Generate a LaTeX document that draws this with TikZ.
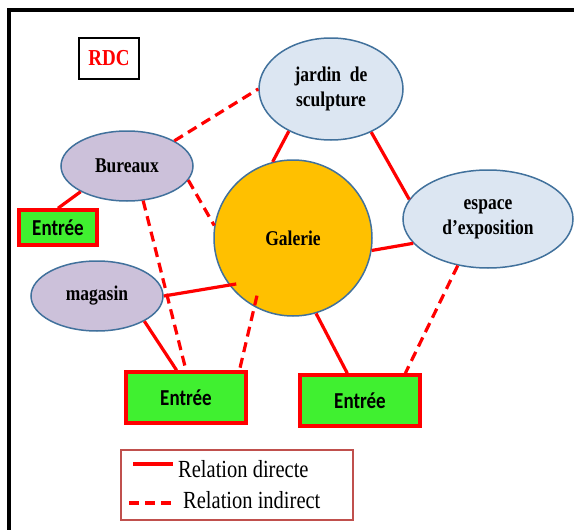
\documentclass[tikz,border=0pt]{standalone}
\usepackage{fontspec}
\setmainfont{Liberation Serif}
\newfontfamily\entfont{Carlito}
\usepackage{xcolor}
\usepackage{graphicx}
\usepackage{tikz}
\usetikzlibrary{calc,shapes.geometric}
\definecolor{rouge}{HTML}{FF0000}
\definecolor{bord}{HTML}{41719C}
\definecolor{lavande}{HTML}{CCC1DA}
\definecolor{ciel}{HTML}{DCE6F2}
\definecolor{orange}{HTML}{FFC000}
\definecolor{vert}{HTML}{40F030}
\definecolor{legbord}{HTML}{C0504D}
\newcommand{\haut}[1]{\scalebox{1}[1.2]{#1}}
\tikzset{
  salle/.style={ellipse, draw=bord, line width=1.5pt, inner sep=0pt, align=center,
    font=\fontsize{17.5}{25}\selectfont\bfseries},
  entree/.style={draw=rouge, fill=vert, line width=3.5pt, inner sep=0pt,
    font=\entfont\fontsize{19}{22}\selectfont\bfseries},
  dir/.style={draw=rouge, line width=3.2pt},
  ind/.style={draw=rouge, line width=3.2pt, dash pattern=on 10pt off 6pt},
  leg/.style={anchor=west, inner sep=0pt, font=\fontsize{20.5}{24}\selectfont},
}

\begin{document}
\begin{tikzpicture}[x=1pt,y=-1pt]
  \useasboundingbox (0,0) rectangle (574,530);
  % cadre
  \draw[line width=3.5pt] (574,10) -- (9,10) -- (9,530);
  \node[draw, line width=2pt, minimum width=60pt, minimum height=41pt, text=rouge,
    font=\fontsize{19}{22}\selectfont\bfseries] (rdc) at (109,58.5) {\haut{RDC}};
  % espaces
  \node[salle, fill=lavande, minimum width=132pt, minimum height=70pt] (bur) at (127,166) {\haut{Bureaux}};
  \node[salle, fill=ciel, minimum width=144pt, minimum height=102pt] (jar) at (331,89) {\haut{jardin~ de}\\\haut{sculpture}};
  \node[salle, fill=ciel, minimum width=170pt, minimum height=98pt] (esp) at (488,219) {\haut{espace}\\\haut{d'exposition}};
  \node[salle, fill=orange, minimum width=158pt, minimum height=156pt] (gal) at (293,238) {\haut{Galerie}};
  \node[salle, fill=lavande, minimum width=132pt, minimum height=70pt] (mag) at (97,296) {\haut{magasin}};
  % entrees
  \node[entree, minimum width=78pt, minimum height=35pt] (entl) at (58,227.5) {\haut{Entrée}};
  \node[entree, minimum width=120pt, minimum height=51pt] (entb) at (186,397.5) {\haut{Entrée}};
  \node[entree, minimum width=120pt, minimum height=51pt] (entr) at (360,400.5) {\haut{Entrée}};
  % relations directes
  \draw[dir] (bur.209) -- (entl.north);
  \draw[dir] (jar.225) -- (gal.105);
  \draw[dir] (jar.313) -- (esp.166);
  \draw[dir] (gal.351) -- (esp.198);
  \draw[dir] (mag.east) -- ($(gal)!0.92!(gal.219)$);
  \draw[dir] (mag.332) -- (entb.109);
  \draw[dir] (gal.287) -- (entr.115);
  % relations indirectes
  \draw[ind] (bur.28) -- (jar.west);
  \draw[ind] (bur.347) -- (gal.171);
  \draw[ind] (bur.295) -- (entb.north);
  \draw[ind] ($(gal)!0.86!(gal.238)$) -- (entb.27);
  \draw[ind] (esp.237) -- (entr.31);
  % legende
  \node[draw=legbord, line width=1.8pt, minimum width=232pt, minimum height=70pt, inner sep=0pt] (legende) at (237,485) {};
  \coordinate (d1) at (133,464);
  \coordinate (d2) at (173,464);
  \coordinate (i1) at (129,503);
  \coordinate (i2) at (175,503);
  \draw[dir] (d1) -- (d2);
  \draw[ind] (i1) -- (i2);
  \node[leg] (ldir) at (178,469) {\haut{Relation directe}};
  \node[leg] (lind) at (183,500) {\haut{Relation indirect}};
\end{tikzpicture}
\end{document}
